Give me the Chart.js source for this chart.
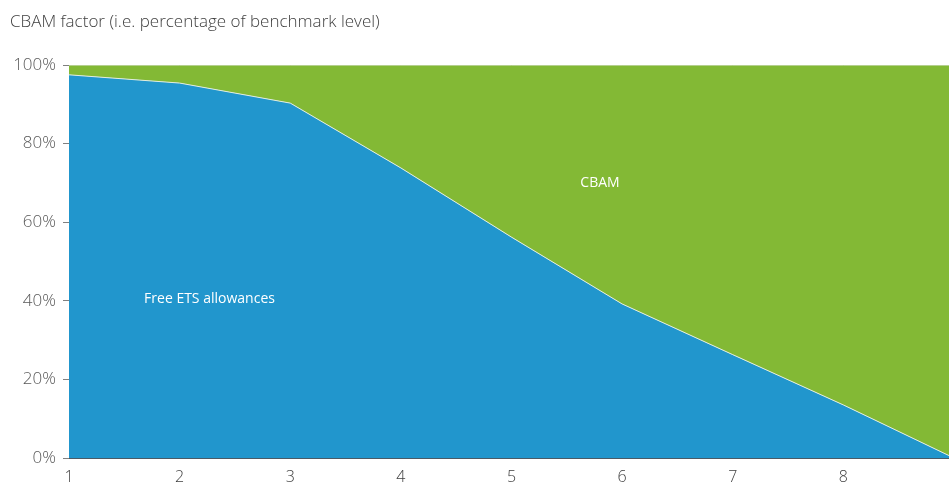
<!DOCTYPE html>
<html>
<head>
<meta charset="utf-8">
<script src="https://cdn.jsdelivr.net/npm/chart.js@4"></script>
<style>
  html, body { margin: 0; padding: 0; background: #fff; overflow: hidden; }
  #wrap { width: 954px; height: 483px; position: relative; }
</style>
</head>
<body>
<div id="wrap"><canvas id="chart"></canvas></div>
<script>
const years = ['1', '2', '3', '4', '5', '6', '7', '8', '9']
const freeAllowances = [97.5, 95.4, 90.3, 73.8, 56.2, 39.2, 26.3, 13.5, 0]
const cbamShare = [2.5, 4.6, 9.7, 26.2, 43.8, 60.8, 73.7, 86.5, 100]
const yTicks = [0, 20, 40, 60, 80, 100]

const FONT = '"Open Sans", "Noto Sans", sans-serif'

// title and in-area labels
const textPlugin = {
  id: 'texts',
  afterDraw(chart) {
    const ctx = chart.ctx
    const x = chart.scales.x
    const y = chart.scales.y
    ctx.save()
    ctx.font = '300 17px ' + FONT
    ctx.fillStyle = '#404040'
    ctx.textAlign = 'left'
    ctx.textBaseline = 'middle'
    ctx.fillText('CBAM factor (i.e. percentage of benchmark level)', 10, 22)

    ctx.fillStyle = '#ffffff'
    ctx.textAlign = 'center'
    ctx.font = '14px ' + FONT
    ctx.fillText('Free ETS allowances', x.getPixelForValue(1.27), y.getPixelForValue(40.5))
    ctx.fillText('CBAM', x.getPixelForValue(4.8), y.getPixelForValue(70))
    ctx.restore()
  }
}

new Chart(document.getElementById('chart'), {
  type: 'line',
  data: {
    labels: years,
    datasets: [{
      label: 'Free ETS allowances',
      data: freeAllowances,
      backgroundColor: '#2196cd',
      borderColor: '#e4eedc',
      borderWidth: 1,
      pointRadius: 0,
      tension: 0,
      fill: 'origin'
    }, {
      label: 'CBAM',
      data: cbamShare,
      backgroundColor: '#83b935',
      borderColor: '#e6e6e6',
      borderWidth: 1,
      pointRadius: 0,
      tension: 0,
      fill: '-1'
    }]
  },
  options: {
    responsive: true,
    maintainAspectRatio: false,
    animation: false,
    layout: { padding: { top: 65, right: 0, left: 0, bottom: 0 } },
    plugins: {
      legend: { display: false },
      tooltip: { enabled: false }
    },
    scales: {
      x: {
        offset: false,
        grid: { display: false, drawTicks: false },
        border: { display: true, color: '#4a5a66', width: 1 },
        ticks: {
          color: '#404040',
          font: { family: FONT, size: 16, weight: '300' },
          padding: 10,
          maxRotation: 0,
          autoSkip: false,
          callback: (v, i) => i === years.length - 1 ? '' : years[i]
        },
        afterFit: s => { s.height = 25; s.paddingLeft = 0; s.paddingRight = 0 }
      },
      y: {
        stacked: true,
        min: 0,
        max: 100,
        afterBuildTicks: s => { s.ticks = yTicks.map(v => ({ value: v })) },
        grid: { drawOnChartArea: false, drawTicks: true, tickLength: 6, color: '#808080' },
        border: { display: true, color: '#595959', width: 1 },
        ticks: {
          color: '#595959',
          font: { family: FONT, size: 17, weight: '300' },
          padding: 7,
          callback: v => v + '%'
        },
        afterFit: s => { s.width = 69 }
      }
    }
  },
  plugins: [textPlugin]
})
</script>
</body>
</html>
